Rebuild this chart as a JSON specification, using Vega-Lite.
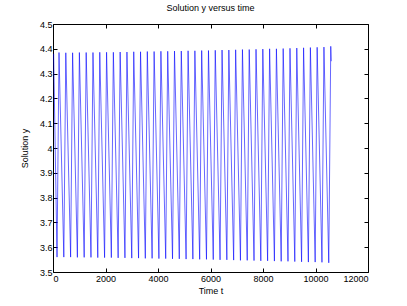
{
  "$schema": "https://vega.github.io/schema/vega-lite/v6.json",
  "autosize": {"type": "none"},
  "width": 315,
  "height": 248,
  "padding": {"left": 53, "top": 24, "right": 39, "bottom": 34},
  "background": "white",
  "config": {
    "view": {"stroke": null},
    "font": "Liberation Sans",
    "axis": {
      "domainColor": "#000000",
      "domainWidth": 1,
      "tickColor": "#000000",
      "tickWidth": 1,
      "tickSize": -4,
      "labelColor": "#000000",
      "labelFont": "Liberation Sans",
      "labelFontSize": 9,
      "titleFont": "Liberation Sans",
      "titleFontSize": 9,
      "titleFontWeight": "normal",
      "titleColor": "#000000",
      "grid": false
    }
  },
  "title": {
    "text": "Solution y versus time",
    "font": "Liberation Sans",
    "fontSize": 9,
    "fontWeight": "normal",
    "color": "#000000",
    "offset": 7
  },
  "data": {
    "values": [
      {"t": 25, "y": 4.38},
      {"t": 153, "y": 3.560}, {"t": 229, "y": 4.385},
      {"t": 412, "y": 3.560}, {"t": 488, "y": 4.384},
      {"t": 671, "y": 3.560}, {"t": 747, "y": 4.384},
      {"t": 929, "y": 3.559}, {"t": 1005, "y": 4.385},
      {"t": 1188, "y": 3.559}, {"t": 1264, "y": 4.385},
      {"t": 1447, "y": 3.559}, {"t": 1523, "y": 4.385},
      {"t": 1706, "y": 3.558}, {"t": 1782, "y": 4.386},
      {"t": 1965, "y": 3.558}, {"t": 2041, "y": 4.386},
      {"t": 2223, "y": 3.558}, {"t": 2299, "y": 4.386},
      {"t": 2482, "y": 3.557}, {"t": 2558, "y": 4.387},
      {"t": 2741, "y": 3.557}, {"t": 2817, "y": 4.387},
      {"t": 3000, "y": 3.556}, {"t": 3076, "y": 4.388},
      {"t": 3259, "y": 3.556}, {"t": 3335, "y": 4.388},
      {"t": 3517, "y": 3.555}, {"t": 3593, "y": 4.389},
      {"t": 3776, "y": 3.555}, {"t": 3852, "y": 4.389},
      {"t": 4035, "y": 3.554}, {"t": 4111, "y": 4.390},
      {"t": 4294, "y": 3.554}, {"t": 4370, "y": 4.390},
      {"t": 4553, "y": 3.553}, {"t": 4629, "y": 4.391},
      {"t": 4811, "y": 3.553}, {"t": 4887, "y": 4.391},
      {"t": 5070, "y": 3.552}, {"t": 5146, "y": 4.392},
      {"t": 5329, "y": 3.552}, {"t": 5405, "y": 4.392},
      {"t": 5588, "y": 3.551}, {"t": 5664, "y": 4.393},
      {"t": 5847, "y": 3.551}, {"t": 5923, "y": 4.393},
      {"t": 6105, "y": 3.550}, {"t": 6181, "y": 4.394},
      {"t": 6364, "y": 3.549}, {"t": 6440, "y": 4.395},
      {"t": 6623, "y": 3.549}, {"t": 6699, "y": 4.395},
      {"t": 6882, "y": 3.548}, {"t": 6958, "y": 4.396},
      {"t": 7141, "y": 3.547}, {"t": 7217, "y": 4.397},
      {"t": 7399, "y": 3.547}, {"t": 7475, "y": 4.397},
      {"t": 7658, "y": 3.546}, {"t": 7734, "y": 4.398},
      {"t": 7917, "y": 3.545}, {"t": 7993, "y": 4.399},
      {"t": 8176, "y": 3.545}, {"t": 8252, "y": 4.400},
      {"t": 8435, "y": 3.544}, {"t": 8511, "y": 4.400},
      {"t": 8693, "y": 3.543}, {"t": 8769, "y": 4.401},
      {"t": 8952, "y": 3.543}, {"t": 9028, "y": 4.402},
      {"t": 9211, "y": 3.542}, {"t": 9287, "y": 4.403},
      {"t": 9470, "y": 3.541}, {"t": 9546, "y": 4.404},
      {"t": 9729, "y": 3.540}, {"t": 9805, "y": 4.405},
      {"t": 9987, "y": 3.540}, {"t": 10063, "y": 4.406},
      {"t": 10246, "y": 3.539}, {"t": 10322, "y": 4.407},
      {"t": 10505, "y": 3.537}, {"t": 10581, "y": 4.410},
      {"t": 10600, "y": 4.35}
    ]
  },
  "layer": [
    {
      "mark": {"type": "line", "color": "#0000ff", "strokeWidth": 0.6},
      "encoding": {
        "x": {
          "field": "t", "type": "quantitative",
          "scale": {"domain": [0, 12000], "nice": false, "zero": false},
          "axis": {"orient": "bottom", "title": "Time t", "values": [0, 2000, 4000, 6000, 8000, 10000, 12000], "format": "d", "labelPadding": 6, "titlePadding": 3}
        },
        "y": {
          "field": "y", "type": "quantitative",
          "scale": {"domain": [3.5, 4.5], "nice": false, "zero": false},
          "axis": {"orient": "left", "title": "Solution y", "values": [3.5, 3.6, 3.7, 3.8, 3.9, 4, 4.1, 4.2, 4.3, 4.4, 4.5], "format": "~f", "labelPadding": 5, "titlePadding": 10}
        }
      }
    },
    {
      "mark": {"type": "line", "color": "#0000ff", "strokeOpacity": 0},
      "encoding": {
        "x": {
          "field": "t", "type": "quantitative",
          "axis": {"orient": "top", "title": null, "labels": false, "values": [0, 2000, 4000, 6000, 8000, 10000, 12000]}
        },
        "y": {
          "field": "y", "type": "quantitative",
          "axis": {"orient": "right", "title": null, "labels": false, "values": [3.5, 3.6, 3.7, 3.8, 3.9, 4, 4.1, 4.2, 4.3, 4.4, 4.5]}
        }
      }
    }
  ],
  "resolve": {"axis": {"x": "independent", "y": "independent"}}
}
